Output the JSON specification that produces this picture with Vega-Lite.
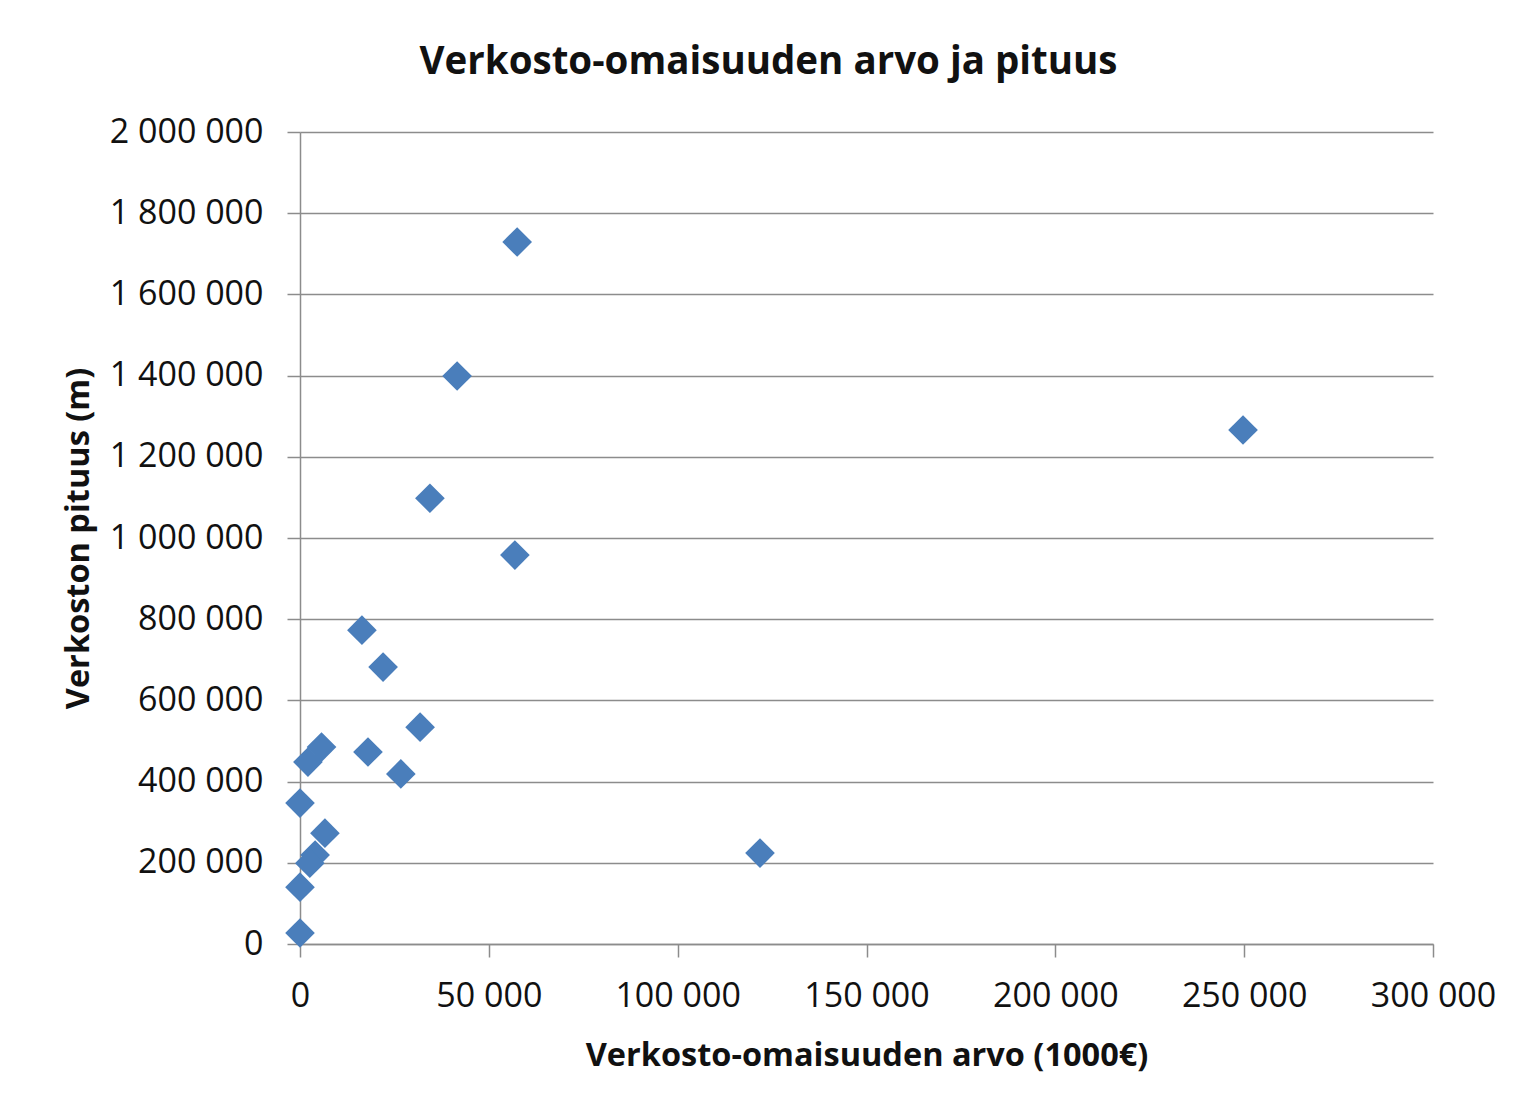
{
  "$schema": "https://vega.github.io/schema/vega-lite/v6.json",
  "autosize": "none",
  "width": 1133,
  "height": 812,
  "padding": {"left": 300, "top": 132, "right": 99, "bottom": 169},
  "background": "white",
  "title": {
    "text": "Verkosto-omaisuuden arvo ja pituus",
    "font": "Open Sans",
    "fontSize": 38.5,
    "fontWeight": "bold",
    "color": "#111",
    "anchor": "middle",
    "dx": -98,
    "offset": 33
  },
  "data": {
    "values": [
      {"arvo": 57500, "pituus": 1729000},
      {"arvo": 41600, "pituus": 1399000},
      {"arvo": 34400, "pituus": 1098000},
      {"arvo": 56900, "pituus": 958000},
      {"arvo": 16400, "pituus": 773000},
      {"arvo": 22000, "pituus": 682000},
      {"arvo": 31800, "pituus": 534000},
      {"arvo": 18000, "pituus": 473000},
      {"arvo": 26700, "pituus": 419000},
      {"arvo": 5700, "pituus": 485000},
      {"arvo": 2100, "pituus": 448000},
      {"arvo": 0, "pituus": 347000},
      {"arvo": 6600, "pituus": 273000},
      {"arvo": 4000, "pituus": 219000},
      {"arvo": 2600, "pituus": 199000},
      {"arvo": 0, "pituus": 140000},
      {"arvo": 0, "pituus": 27000},
      {"arvo": 121800, "pituus": 224000},
      {"arvo": 249700, "pituus": 1266000}
    ]
  },
  "mark": {"type": "point", "shape": "diamond", "filled": true, "size": 880, "color": "#4a7ebb", "opacity": 1},
  "encoding": {
    "x": {
      "field": "arvo", "type": "quantitative",
      "scale": {"domain": [0, 300000], "nice": false, "zero": true},
      "axis": {
        "title": "Verkosto-omaisuuden arvo (1000€)",
        "values": [0, 50000, 100000, 150000, 200000, 250000, 300000],
        "format": ",d",
        "grid": false,
        "labelPadding": 22,
        "titlePadding": 26
      }
    },
    "y": {
      "field": "pituus", "type": "quantitative",
      "scale": {"domain": [0, 2000000], "nice": false},
      "axis": {
        "title": "Verkoston pituus (m)",
        "values": [0, 200000, 400000, 600000, 800000, 1000000, 1200000, 1400000, 1600000, 1800000, 2000000],
        "format": ",d",
        "grid": true,
        "labelPadding": 24,
        "titlePadding": 14
      }
    }
  },
  "config": {
    "locale": {"number": {"decimal": ",", "thousands": " ", "grouping": [3], "currency": ["", "€"]}},
    "view": {"stroke": null},
    "axis": {
      "labelFont": "Open Sans",
      "labelFontSize": 34,
      "labelColor": "#111",
      "labelFlush": false,
      "labelOverlap": false,
      "titleFont": "Open Sans",
      "titleFontSize": 32.5,
      "titleFontWeight": "bold",
      "titleColor": "#111",
      "domainColor": "#8c8c8c",
      "domainWidth": 1.5,
      "tickColor": "#8c8c8c",
      "tickWidth": 1.5,
      "tickSize": 13,
      "gridColor": "#8c8c8c",
      "gridWidth": 1.5
    }
  }
}
